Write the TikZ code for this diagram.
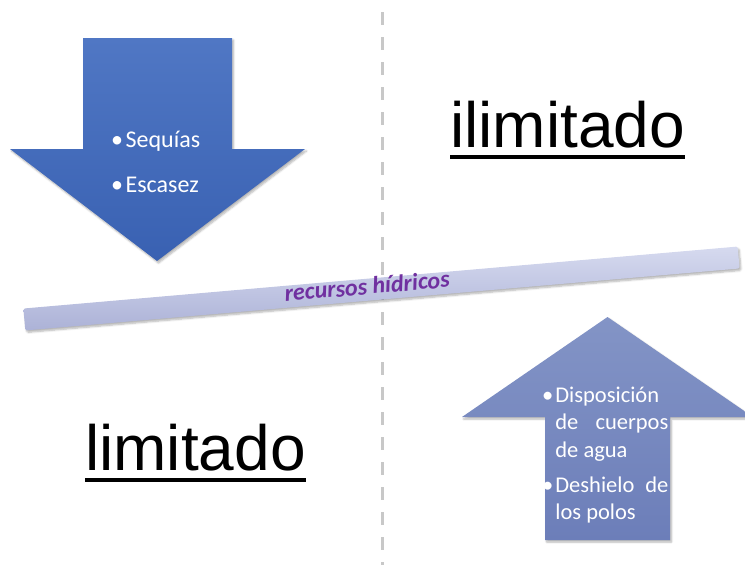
\documentclass[tikz,border=0pt]{standalone}
\usepackage{fontspec}
\setmainfont{Carlito}
\newfontfamily\arialfont{Liberation Sans}
\usepackage{xcolor}
\usetikzlibrary{shadows.blur}

\definecolor{azulflecha}{RGB}{80,119,196}
\definecolor{azulosc}{RGB}{57,97,178}
\definecolor{grisazul}{RGB}{131,148,198}
\definecolor{grisazulosc}{RGB}{108,126,185}
\definecolor{lila}{RGB}{214,218,239}
\definecolor{lilaosc}{RGB}{172,178,215}
\definecolor{morado}{RGB}{112,48,160}
\definecolor{guion}{RGB}{200,200,200}

\tikzset{
  sombra/.style={blur shadow={shadow xshift=1.5pt,shadow yshift=-2pt,shadow opacity=30,shadow blur steps=6}},
  itemtexto/.style={text=white,inner sep=0,font=\fontsize{22.5}{27.5}\selectfont},
  palabra/.style={inner sep=0,font=\arialfont\fontsize{64}{64}\selectfont},
  subraya/.style={line width=4pt},
}

\begin{document}
\begin{tikzpicture}[x=1pt,y=-1pt]
        \def\ancho{113pt}

        \clip (0,0) rectangle (745,565);

        % línea divisoria
        \draw[guion,line width=3pt,dash pattern=on 13pt off 12pt] (382,12)--(382,565);

        % --- flecha hacia abajo ---
        \path[sombra,top color=azulflecha,bottom color=azulosc]
          (83,38)--(232,38)--(232,149)--(305,149)--(157,261)--(10,149)--(83,149)--cycle;
        \node[itemtexto,anchor=base west,font=\fontsize{24}{45}\selectfont] (itemsbajo) at (111,147)
          {\begin{tabular}[t]{@{}l@{\hspace{2.5pt}}l@{}}\textbullet&Sequías\\ \textbullet&Escasez\end{tabular}};

        % --- flecha hacia arriba ---
        \path[sombra,top color=grisazul,bottom color=grisazulosc]
          (607.5,317)--(753,417)--(670,417)--(670,540)--(545,540)--(545,417)--(462,417)--cycle;
        \node[itemtexto,anchor=base west] (itemsalto) at (542,402)
          {\begin{tabular}[t]{@{}l@{\hspace{2pt}}l@{}}
           \textbullet&Disposición\\
           &\makebox[\ancho][s]{de cuerpos}\\
           &de agua\\[7.5pt]
           \textbullet&\makebox[\ancho][s]{Deshielo de}\\
           &los polos
           \end{tabular}};

        % --- barra ---
        \node[sombra,rotate=4.96,minimum width=717pt,minimum height=22pt,inner sep=0,
          rounded corners=1.5pt,top color=lila,bottom color=lilaosc] (barra) at (381.5,288.5) {};
        \node[rotate=4.96,inner sep=0,text=morado,font=\fontsize{24}{24}\selectfont\bfseries\itshape]
          (recursos) at (367,286) {recursos hídricos};

        % palabras
        \node[palabra,anchor=base west] (ili) at (450,147) {ilimitado};
        \draw[subraya] ([yshift=-10pt]ili.base west)--([yshift=-10pt]ili.base east);
        \node[palabra,anchor=base west] (lim) at (85,470) {limitado};
        \draw[subraya] ([yshift=-10pt]lim.base west)--([yshift=-10pt]lim.base east);
      \end{tikzpicture}
\end{document}
